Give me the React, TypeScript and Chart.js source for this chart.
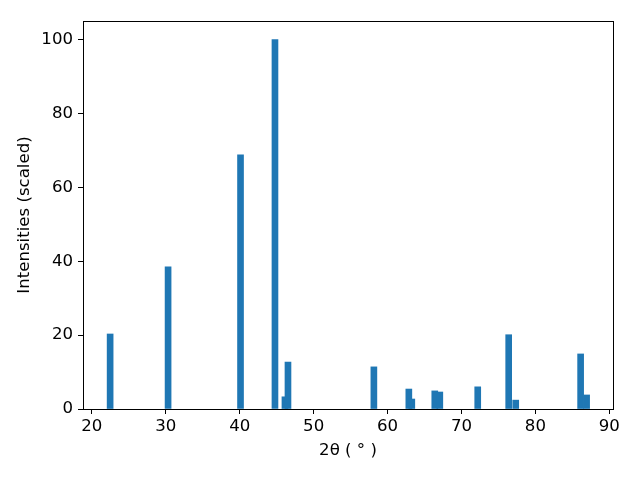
import React, { useEffect, useRef } from "react";
import { Chart, registerables } from "chart.js";

Chart.register(...registerables);

// 2θ positions (degrees) and scaled intensities
const twoTheta = [22.47, 30.31, 40.11, 44.77, 46.12, 46.53, 58.15, 62.88, 63.28, 66.39, 67.07, 72.2, 76.39, 77.34, 86.12, 86.93];
const intensity = [20.3, 38.5, 68.8, 100, 3.3, 12.7, 11.4, 5.4, 2.7, 4.9, 4.6, 6.0, 20.1, 2.4, 14.9, 3.8];
const xTicks = [20, 30, 40, 50, 60, 70, 80, 90];
const yTicks = [0, 20, 40, 60, 80, 100];
const xLabel = "2θ ( ° )";
const yLabel = "Intensities (scaled)";

const FONT = "'DejaVu Sans', sans-serif";
const FS = 16.6;

const framePlugin = {
  id: "frame",
  afterDraw(chart: any) {
    const { ctx, chartArea } = chart;
    ctx.save();
    ctx.strokeStyle = "#000";
    ctx.lineWidth = 1;
    ctx.strokeRect(
      Math.round(chartArea.left) + 0.5,
      Math.round(chartArea.top) + 0.5,
      Math.round(chartArea.right - chartArea.left),
      Math.round(chartArea.bottom - chartArea.top)
    );
    ctx.restore();
  },
};

export default function App() {
  const ref = useRef<HTMLCanvasElement>(null);
  useEffect(() => {
    if (!ref.current) return;
    const chart = new Chart(ref.current, {
      type: "bar",
      data: {
        datasets: [
          {
            data: twoTheta.map((x, i) => ({ x, y: intensity[i] })),
            backgroundColor: "#1f77b4",
            borderWidth: 0,
            barThickness: 6,
          },
        ],
      },
      options: {
        responsive: false,
        animation: false,
        layout: { padding: { top: 21, right: 27, left: 0, bottom: 0 } },
        plugins: { legend: { display: false }, tooltip: { enabled: false } },
        scales: {
          x: {
            type: "linear",
            offset: false,
            min: 18.8,
            max: 90.5,
            afterFit: (s: any) => {
              s.height = 71;
            },
            afterBuildTicks: (s: any) => {
              s.ticks = xTicks.map((v) => ({ value: v }));
            },
            grid: { offset: false, drawOnChartArea: false, drawTicks: true, tickLength: 5, color: "#000", tickWidth: 1 },
            border: { display: true, color: "#000", width: 1 },
            ticks: { color: "#000", font: { family: FONT, size: FS }, padding: 3, maxRotation: 0 },
            title: {
              display: true,
              text: xLabel,
              color: "#000",
              font: { family: FONT, size: FS },
              padding: { top: 0, bottom: 19 },
            },
          },
          y: {
            type: "linear",
            min: 0,
            max: 105,
            afterFit: (s: any) => {
              s.width = 83;
            },
            afterBuildTicks: (s: any) => {
              s.ticks = yTicks.map((v) => ({ value: v }));
            },
            grid: { drawOnChartArea: false, drawTicks: true, tickLength: 5, color: "#000", tickWidth: 1 },
            border: { display: true, color: "#000", width: 1 },
            ticks: { color: "#000", font: { family: FONT, size: FS }, padding: 5 },
            title: {
              display: true,
              text: yLabel,
              color: "#000",
              font: { family: FONT, size: FS },
              padding: { top: 15, bottom: 0 },
            },
          },
        },
      },
      plugins: [framePlugin],
    });
    return () => chart.destroy();
  }, []);
  return (
    <div style={{ position: "absolute", left: 0, top: 0, width: 640, height: 480, background: "#fff" }}>
      <canvas ref={ref} width={640} height={480} />
    </div>
  );
}
